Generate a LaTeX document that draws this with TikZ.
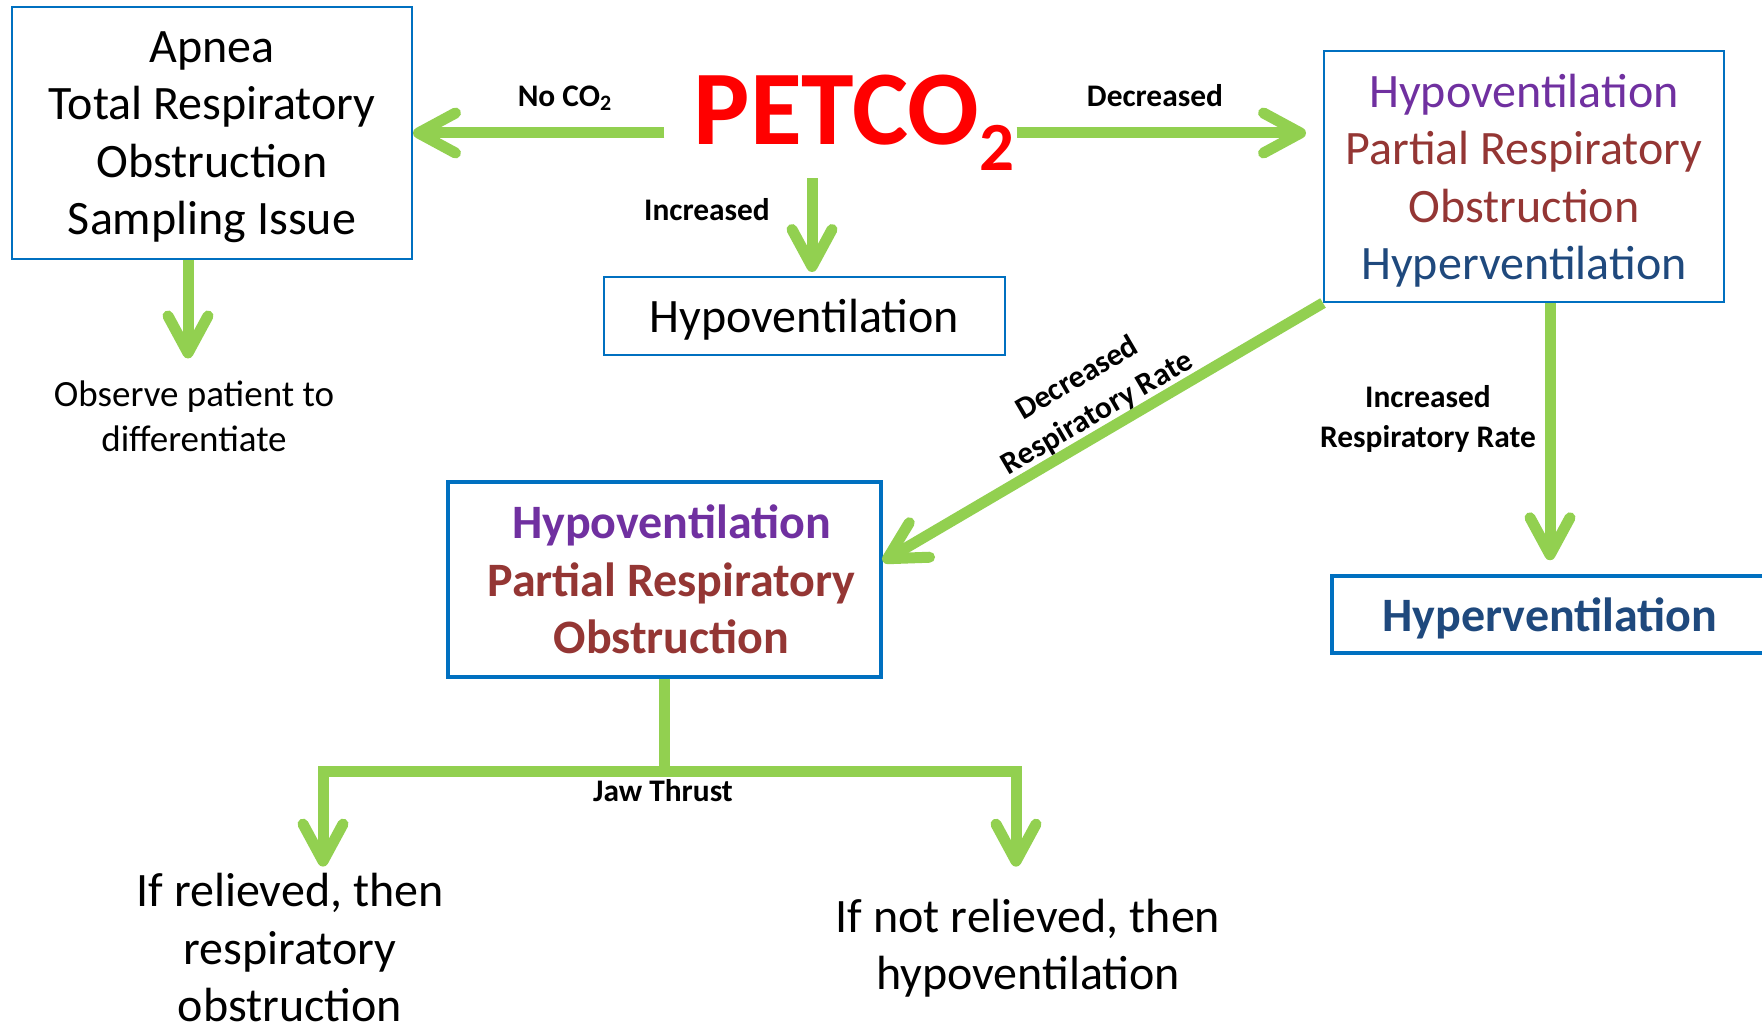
\documentclass[tikz,border=0pt]{standalone}
\usepackage{fontspec}
\setmainfont{Carlito}
\usetikzlibrary{arrows.meta}
\definecolor{arrowgreen}{HTML}{92D050}
\definecolor{boxblue}{HTML}{0070C0}
\definecolor{petcored}{HTML}{FF0000}
\definecolor{hypopurple}{HTML}{7030A0}
\definecolor{obstred}{HTML}{943634}
\definecolor{hypernavy}{HTML}{1F497D}
\newcommand{\mainsize}{\fontsize{24pt}{28.75pt}\selectfont}
\newcommand{\notesize}{\fontsize{18.5pt}{22.5pt}\selectfont}
\newcommand{\tagsize}{\fontsize{15.7pt}{20pt}\selectfont\bfseries}

\begin{document}
\begin{tikzpicture}[x=0.5pt, y=-0.5pt,
		box/.style={draw=boxblue, line width=1pt, inner sep=0pt},
		heavybox/.style={box, line width=1.75pt},
		note/.style={align=center, font=\mainsize},
		boldnote/.style={align=center, font=\mainsize\bfseries},
		tag/.style={align=center, font=\tagsize},
		flow/.style={draw=arrowgreen, line width=5.5pt, -{Straight Barb[length=18.5pt, width=20pt, round]}}]
			%%%%% START %%%%%
			
			\useasboundingbox (0,0) rectangle (1762,1022);
			\clip (0,0) rectangle (1762,1022);
			
			\node[anchor=base, inner sep=0pt, text=petcored, font=\fontsize{53pt}{53pt}\selectfont\bfseries] (petco) at (854,145) {PETCO\raisebox{-13pt}{\fontsize{34.5pt}{34.5pt}\selectfont 2}};
			
			\node[box, minimum width=200pt, minimum height=126pt] (apnea) at (212,133) {};
			\node[box, minimum width=200.5pt, minimum height=39pt] (hypo) at (804.5,316) {};
			\node[box, minimum width=200pt, minimum height=125.5pt] (mixed) at (1524,176.5) {};
			\node[heavybox, minimum width=216.5pt, minimum height=97.5pt] (partial) at (664.5,579.5) {};
			\node[heavybox, minimum width=218pt, minimum height=38.5pt] (hyper) at (1550,614.5) {};
			
			\node[note] (apneatext) at ([yshift=-2pt]apnea.center) {Apnea\\Total Respiratory\\Obstruction\\Sampling Issue};
			\node[note] (hypotext) at ([yshift=-2pt]hypo.center) {Hypoventilation};
			\node[note] (mixedtext) at ([yshift=-2pt]mixed.center) {\textcolor{hypopurple}{Hypoventilation}\\\textcolor{obstred}{Partial Respiratory}\\\textcolor{obstred}{Obstruction}\\\textcolor{hypernavy}{Hyperventilation}};
			\node[boldnote] (partialtext) at ([xshift=3.5pt]partial.center) {\textcolor{hypopurple}{Hypoventilation}\\\textcolor{obstred}{Partial Respiratory}\\\textcolor{obstred}{Obstruction}};
			\node[boldnote, text=hypernavy] (hypertext) at ([yshift=-1.7pt]hyper.center) {Hyperventilation};
			
			\node[note, font=\notesize] (observe) at (194,416) {Observe patient to\\differentiate};
			\node[note] (relieved) at (290,948) {If relieved, then\\respiratory\\obstruction};
			\node[note] (notrelieved) at (1028,948) {If not relieved, then\\hypoventilation};
			
			\node[tag] (noco) at (565,98) {No CO\textsubscript{2}};
			\node[tag] (incr) at (707,210) {Increased};
			\node[tag] (decr) at (1155,96) {Decreased};
			\node[tag] (incrrate) at (1428,419) {Increased\\Respiratory Rate};
			\node[tag] (jaw) at (663,791) {Jaw Thrust};
			
			\draw[flow] ([xshift=-14.5pt]petco.west |- apnea.east) -- (apnea.east);
			\draw[flow, shorten >=8.5pt] ([xshift=1pt]petco.east |- apnea.east) -- (mixed.west |- apnea.east);
			\draw[flow, shorten <=3.5pt, shorten >=2pt] ([xshift=3.75pt]hypo.north |- petco.south) -- ([xshift=3.75pt]hypo.north);
			\draw[flow, shorten >=7.5pt] ([xshift=-3pt]observe.north |- apnea.south) -- ([xshift=-3pt]observe.north);
			
			\draw[flow] (mixed.south west) -- ([yshift=9pt]partial.east) node[pos=0.49, above, sloped, tag, inner sep=0pt] (decrrate) {Decreased\\Respiratory Rate};
			\draw[flow, shorten >=7pt] (hyper.north |- mixed.south) -- (hyper.north);
			
			\coordinate (jawL) at (323,771);
			\coordinate (jawR) at (1016,771);
			\draw[flow] (partial.south) |- (jawL) -- (jawL |- relieved.north);
			\draw[flow, shorten >=12.5pt] (partial.south) |- (jawR) -- (jawR |- notrelieved.north);
			
			%%%%% END %%%%%
		\end{tikzpicture}
\end{document}
